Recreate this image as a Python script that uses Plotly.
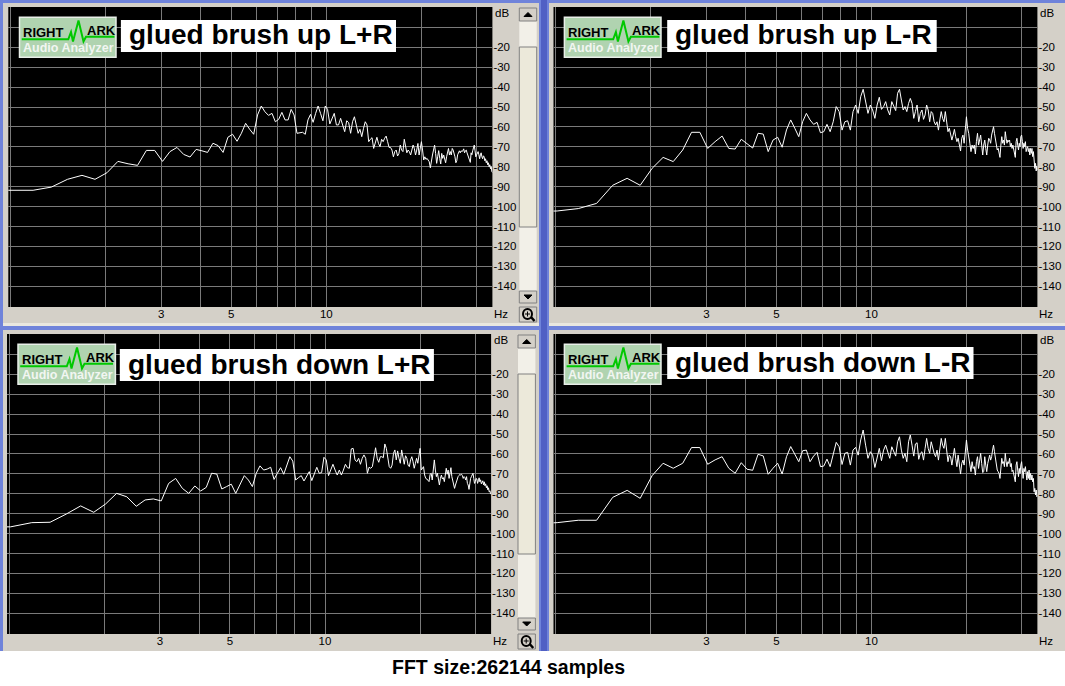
import plotly.graph_objects as go

W, H = 1065, 686

# FFT bins shown by the analyzer (bin number x bin width)
BIN_HZ = 0.1682
BINS = list(range(5, 201))

# dB per bin, rows of ten, first row starts at bin 5
UP_LR = [
 -91.8,-91.8,-91.8,-90.2,-86.3,-84.3,-86.3,-83.0,-77.3,-78.5,
 -79.3,-71.8,-71.8,-77.3,-72.4,-70.3,-73.8,-75.1,-71.3,-72.0,
 -72.8,-68.2,-69.4,-72.8,-65.2,-63.7,-67.2,-63.2,-58.2,-61.2,
 -63.7,-54.0,-49.5,-52.4,-54.2,-53.2,-57.4,-56.2,-52.7,-56.5,
 -56.5,-51.2,-54.0,-63.2,-62.9,-62.7,-63.7,-56.5,-53.7,-57.7,
 -53.2,-49.5,-53.2,-56.9,-49.5,-51.2,-58.5,-55.7,-53.2,-59.0,
 -59.0,-55.7,-59.0,-62.4,-56.9,-57.9,-63.2,-57.4,-54.9,-59.9,
 -63.2,-61.2,-64.9,-60.7,-57.4,-59.0,-67.4,-66.2,-65.4,-70.8,
 -67.4,-65.2,-68.3,-69.9,-66.2,-67.4,-65.7,-64.6,-67.4,-70.3,
 -70.3,-71.6,-75.0,-72.4,-71.6,-74.6,-73.3,-69.1,-71.6,-72.4,
 -66.2,-70.8,-73.0,-71.6,-72.4,-74.1,-71.6,-69.1,-70.8,-74.1,
 -71.6,-68.3,-74.1,-70.8,-67.4,-71.6,-76.6,-75.0,-76.3,-75.8,
 -76.6,-77.5,-80.5,-75.8,-74.1,-71.6,-69.1,-73.3,-78.3,-75.0,
 -71.9,-75.8,-78.6,-73.3,-75.8,-74.1,-76.6,-78.0,-75.0,-73.3,
 -70.8,-74.1,-72.4,-74.1,-70.8,-71.6,-73.0,-75.0,-78.0,-77.0,
 -74.0,-72.5,-72.0,-73.0,-72.0,-72.4,-72.0,-71.0,-73.0,-72.0,
 -71.6,-73.0,-74.0,-75.0,-76.5,-77.8,-73.0,-74.0,-72.0,-71.0,
 -69.1,-72.0,-75.0,-74.0,-73.0,-72.4,-74.0,-76.0,-74.0,-73.0,
 -75.0,-76.0,-74.5,-75.0,-77.0,-76.0,-78.0,-77.0,-79.0,-78.0,
 -80.0,-79.0,-81.0,-80.0,-82.5,-83.0,
]
UP_LMR = [
 -102.5,-102.2,-101.0,-98.4,-89.3,-85.8,-89.3,-80.8,-75.3,-77.4,
 -71.6,-62.7,-62.7,-70.8,-67.4,-64.6,-70.8,-71.1,-66.2,-68.6,
 -70.6,-63.2,-63.6,-72.4,-66.6,-65.2,-70.2,-61.5,-56.5,-60.7,
 -64.9,-57.4,-53.2,-56.5,-58.7,-57.7,-62.9,-62.4,-58.7,-62.4,
 -57.4,-49.8,-52.3,-61.6,-57.4,-56.9,-61.6,-52.3,-49.0,-53.2,
 -44.8,-41.1,-47.3,-53.2,-49.0,-51.5,-55.7,-49.0,-45.1,-51.2,
 -49.8,-47.3,-51.5,-54.0,-47.3,-49.5,-51.8,-43.1,-41.1,-46.5,
 -51.5,-49.8,-52.3,-48.2,-45.7,-48.2,-55.7,-52.3,-49.0,-57.4,
 -53.2,-51.5,-56.2,-54.0,-49.0,-51.5,-57.4,-52.3,-53.2,-57.4,
 -59.0,-57.4,-61.6,-56.5,-52.3,-55.7,-57.4,-52.3,-57.4,-62.4,
 -60.7,-64.1,-66.6,-64.1,-61.2,-64.9,-67.4,-65.7,-69.1,-72.1,
 -65.7,-64.1,-68.2,-61.6,-54.9,-60.7,-63.2,-68.2,-72.4,-69.1,
 -70.8,-69.1,-73.6,-67.4,-63.2,-69.1,-66.6,-64.1,-69.1,-74.1,
 -69.1,-66.6,-70.8,-74.1,-69.1,-65.7,-66.6,-68.2,-64.1,-61.6,
 -59.9,-63.2,-65.7,-69.1,-71.6,-70.8,-73.3,-75.3,-69.1,-64.9,
 -68.2,-66.6,-69.1,-62.4,-65.7,-68.2,-66.6,-67.4,-66.6,-69.9,
 -68.2,-70.8,-69.1,-71.6,-74.1,-75.3,-67.4,-65.7,-69.1,-71.6,
 -68.2,-69.9,-64.9,-64.1,-67.4,-70.8,-68.2,-69.9,-67.4,-72.4,
 -70.8,-69.9,-72.4,-70.8,-74.1,-70.8,-73.3,-70.8,-74.9,-72.4,
 -76.6,-80.8,-78.3,-82.1,-79.6,-81.6,
]
DOWN_LR = [
 -96.7,-96.6,-94.5,-94.3,-90.2,-86.1,-89.3,-85.1,-79.8,-81.5,
 -86.3,-83.1,-82.6,-83.6,-74.8,-72.3,-77.3,-79.8,-76.1,-78.6,
 -76.8,-69.7,-70.1,-77.6,-76.4,-75.2,-79.8,-75.3,-70.9,-73.1,
 -76.4,-69.7,-66.0,-68.1,-67.6,-66.7,-72.8,-69.7,-66.9,-70.2,
 -65.6,-61.4,-63.6,-73.1,-71.9,-70.9,-73.6,-70.9,-68.9,-73.4,
 -69.7,-66.7,-69.7,-69.4,-61.7,-63.0,-70.9,-68.1,-65.2,-68.1,
 -70.6,-68.1,-70.6,-68.1,-65.2,-66.9,-67.2,-57.5,-57.2,-63.0,
 -63.9,-62.2,-65.2,-62.2,-60.5,-62.2,-69.7,-66.7,-67.2,-66.4,
 -61.4,-56.9,-62.2,-64.2,-61.4,-61.4,-61.9,-55.0,-57.2,-61.4,
 -66.4,-67.2,-65.6,-59.7,-58.0,-63.0,-58.5,-62.2,-64.7,-58.0,
 -62.2,-65.2,-60.9,-62.2,-65.6,-66.4,-63.0,-61.4,-63.9,-67.2,
 -64.7,-62.2,-64.7,-60.5,-57.2,-68.1,-67.2,-66.4,-70.6,-72.3,
 -72.6,-73.1,-73.9,-70.2,-69.7,-73.1,-67.2,-63.0,-68.1,-71.4,
 -69.7,-73.1,-75.6,-72.3,-70.6,-72.6,-71.9,-73.9,-69.7,-67.2,
 -70.2,-68.1,-72.3,-69.7,-66.9,-71.4,-73.1,-74.8,-77.3,-75.6,
 -73.9,-72.3,-71.4,-70.9,-70.2,-70.6,-70.2,-70.9,-72.3,-71.4,
 -71.9,-73.1,-71.4,-74.8,-75.6,-77.8,-73.9,-72.3,-71.4,-70.2,
 -69.7,-72.3,-74.8,-73.9,-72.3,-72.6,-74.8,-73.5,-72.0,-74.0,
 -73.0,-75.0,-74.5,-73.5,-75.5,-74.0,-76.0,-75.0,-77.0,-76.0,
 -78.0,-77.0,-79.0,-78.5,-80.0,-80.0,
]
DOWN_LMR = [
 -95.2,-94.5,-93.3,-93.3,-81.8,-78.3,-82.3,-70.9,-64.7,-67.2,
 -64.7,-56.8,-56.8,-65.2,-63.0,-61.4,-67.2,-69.7,-64.4,-67.7,
 -68.2,-60.2,-61.0,-70.2,-67.2,-64.7,-70.1,-61.4,-56.3,-60.5,
 -63.9,-58.4,-58.1,-63.9,-61.1,-59.2,-66.4,-66.1,-62.6,-66.4,
 -60.6,-54.2,-56.4,-65.3,-59.7,-59.2,-65.6,-58.1,-56.7,-60.6,
 -53.0,-48.0,-55.6,-62.2,-58.9,-60.6,-66.8,-61.4,-57.2,-63.4,
 -58.1,-55.6,-59.7,-62.2,-56.4,-58.9,-61.1,-53.9,-51.4,-58.1,
 -62.2,-59.7,-63.9,-53.9,-50.5,-55.6,-61.1,-55.0,-54.4,-62.7,
 -59.7,-58.9,-63.1,-57.2,-52.2,-57.2,-59.7,-53.9,-57.2,-59.7,
 -61.4,-58.1,-63.1,-56.4,-52.2,-55.6,-57.2,-52.2,-58.9,-63.9,
 -60.6,-61.4,-65.6,-61.4,-57.2,-62.2,-66.4,-60.6,-65.6,-70.1,
 -64.8,-63.1,-65.6,-58.1,-53.0,-58.1,-61.4,-65.6,-68.9,-63.9,
 -67.3,-66.4,-70.6,-63.9,-61.4,-67.3,-63.9,-59.7,-64.8,-69.4,
 -68.9,-61.4,-65.6,-68.9,-64.8,-61.4,-60.6,-63.1,-61.4,-58.1,
 -55.6,-58.9,-62.2,-65.6,-68.1,-68.9,-69.8,-72.3,-66.4,-62.2,
 -64.8,-63.9,-66.4,-59.7,-63.9,-66.4,-63.9,-64.8,-62.2,-66.4,
 -64.8,-68.9,-68.1,-70.6,-71.4,-74.0,-65.6,-63.9,-68.1,-71.4,
 -67.3,-69.8,-65.6,-63.9,-68.1,-72.3,-67.3,-68.9,-66.4,-72.3,
 -73.1,-68.9,-72.3,-68.1,-73.1,-69.8,-73.1,-70.6,-74.0,-72.3,
 -79.0,-77.3,-80.6,-78.1,-81.5,-80.6,
]

DB_TICKS = [0, -10, -20, -30, -40, -50, -60, -70, -80, -90, -100, -110, -120, -130, -140]
DB_LABELS = ["", "", "-20", "-30", "-40", "-50", "-60", "-70", "-80", "-90", "-100", "-110", "-120", "-130", "-140"]
HZ_TICKS = [1, 2, 3, 4, 5, 6, 7, 8, 9, 10, 20, 30]
HZ_LABELS = ["", "", "3", "", "5", "", "", "", "", "10", "", ""]
TITLES = ["glued brush up L+R", "glued brush up L-R", "glued brush down L+R", "glued brush down L-R"]
SERIES = [UP_LR, UP_LMR, DOWN_LR, DOWN_LMR]
FOOTER = "FFT size:262144 samples"

GRAY, BLUE, DBLUE = "#D4D0C8", "#6F83DA", "#5060C4"
SANS = "Liberation Sans"
TICK_SIZE = 11.5

# panel geometry in pixels
PANELS = [
    dict(l=8.3, r=492.4, t=7, b=307, title=(120.9, 396, 20, 52, 128), logo=(19.5, 116, 17.3, 57.3), sb=519.3, dy=0),
    dict(l=553.5, r=1037.4, t=7, b=307, title=(667.2, 936.7, 20, 52, 674), logo=(564.4, 661, 17.3, 57.3), sb=None, dy=0),
    dict(l=7, r=491.1, t=334, b=634, title=(119.8, 433.9, 349, 381, 127), logo=(18, 115.4, 344.3, 384.3), sb=518, dy=327),
    dict(l=553.5, r=1037.4, t=334, b=634, title=(667.2, 973.5, 347, 379, 674), logo=(564.4, 661, 344.3, 384.3), sb=None, dy=327),
]

px = lambda x: x / W
py = lambda y: 1 - y / H
shapes, notes = [], []


def rect(x0, x1, y0, y1, fill, line=None, lw=1, layer="below"):
    shapes.append(dict(type="rect", xref="paper", yref="paper", x0=px(x0), x1=px(x1), y0=py(y1), y1=py(y0),
                       fillcolor=fill, line=dict(color=line or fill, width=lw if line else 0), layer=layer))


def poly(points, color, width=1, fill=None, close=False):
    d = "M" + " L".join(f"{px(a):.5f},{py(b):.5f}" for a, b in points) + (" Z" if close else "")
    shapes.append(dict(type="path", xref="paper", yref="paper", path=d, fillcolor=fill or "rgba(0,0,0,0)",
                       line=dict(color=color, width=width), layer="above"))


def text(x, y, s, size, color="#000", family=SANS, bold=False, anchor="left"):
    notes.append(dict(xref="paper", yref="paper", x=px(x), y=py(y), text=f"<b>{s}</b>" if bold else s,
                      showarrow=False, xanchor=anchor, yanchor="middle", borderpad=0,
                      font=dict(size=size, color=color, family=family)))


# window chrome
rect(0, W, 0, 330, BLUE)
rect(0, 3, 330, 651, BLUE)
rect(539, 549, 330, 651, BLUE)
rect(541, 547, 0, 651, DBLUE)
rect(3, 539, 3, 326, GRAY)
rect(549, W, 3, 326, GRAY)
rect(3, 539, 330, 651, GRAY)
rect(549, W, 330, 651, GRAY)
rect(3, 539, 323, 326, "#E9E7DF")
rect(549, W, 323, 326, "#E9E7DF")

fig = go.Figure()
for i, (p, vals) in enumerate(zip(PANELS, SERIES), start=1):
    rect(p["l"], p["r"], p["t"], p["b"], "#000000")
    fig.add_trace(go.Scatter(x=[k * BIN_HZ for k in BINS], y=vals, mode="lines", xaxis=f"x{i}", yaxis=f"y{i}",
                             line=dict(color="#FFFFFF", width=1), showlegend=False, hoverinfo="skip"))
    fig.layout[f"xaxis{i}"] = dict(type="log", range=[-0.0076, 1.5263], domain=[px(p["l"]), px(p["r"])],
                                   anchor=f"y{i}", tickvals=HZ_TICKS, ticktext=HZ_LABELS, tickangle=0,
                                   showgrid=True, gridcolor="#7A7A7A", gridwidth=1, zeroline=False,
                                   showline=False, ticks="", ticklabelstandoff=-2,
                                   tickfont=dict(family=SANS, size=TICK_SIZE, color="#000"))
    fig.layout[f"yaxis{i}"] = dict(range=[-150.4, 0.2], domain=[py(p["b"]), py(p["t"])], anchor=f"x{i}", side="right",
                                   tickvals=DB_TICKS, ticktext=DB_LABELS, showgrid=True, gridcolor="#7A7A7A",
                                   gridwidth=1, zeroline=False, showline=False, ticks="",
                                   tickfont=dict(family=SANS, size=TICK_SIZE, color="#000"))
    text(p["r"] + 1.5, p["t"] + 6, "dB", TICK_SIZE)
    text(p["r"] + 0.5, p["b"] + 7, "Hz", TICK_SIZE)

    x0, x1, y0, y1, tx = p["title"]
    rect(x0, x1, y0, y1, "#FFFFFF", layer="above")
    text(tx, (y0 + y1) / 2 - 1, TITLES[i - 1], 28, bold=True)

    a, b, c, d = p["logo"]
    rect(a, b, c, d, "#B0D3B0", "#E8EEE8", 1.5, layer="above")
    o = a - 19.5
    v = c - 17.3
    poly([(21.7 + o, 39.3 + v), (68.3 + o, 39.3 + v), (71 + o, 32 + v), (73 + o, 41.5 + v), (78.5 + o, 20.5 + v),
          (83.5 + o, 41.5 + v), (86 + o, 36.7 + v), (114.5 + o, 36.7 + v)], "#00C800", 2)
    text(a + 2.5, c + 15.5, "RIGHT", 13, bold=True)
    text(a + 66.5, c + 13, "ARK", 13, bold=True)
    text(a + 2.5, c + 31, "Audio Analyzer", 12.5, color="#F2F6F2", bold=True)

    if p["sb"]:
        s, dy = p["sb"], p["dy"]
        e = s + 17.4
        m = (s + e) / 2
        rect(s, e, 8 + dy, 303 + dy, "#F2F0E8")
        rect(s, e, 47 + dy, 227 + dy, "#ECE9DA", "#808080", 1)
        rect(s, e, 8 + dy, 21 + dy, GRAY, "#808080", 1)
        rect(s, e, 291 + dy, 303 + dy, GRAY, "#808080", 1)
        rect(s, e, 307 + dy, 322 + dy, GRAY, "#808080", 1)
        poly([(m - 4, 16.5 + dy), (m + 4, 16.5 + dy), (m, 12.5 + dy)], "#000", 1, "#000", True)
        poly([(m - 4, 295 + dy), (m + 4, 295 + dy), (m, 299 + dy)], "#000", 1, "#000", True)
        shapes.append(dict(type="circle", xref="paper", yref="paper", x0=px(m - 5), x1=px(m + 4), y0=py(319 + dy),
                           y1=py(309 + dy), line=dict(color="#000", width=2), layer="above"))
        poly([(m + 3, 317 + dy), (m + 6.5, 321 + dy)], "#000", 2.5)
        poly([(m - 3, 314 + dy), (m + 2, 314 + dy)], "#000", 1)
        poly([(m - 0.5, 311.5 + dy), (m - 0.5, 316.5 + dy)], "#000", 1)

text(508, 667, FOOTER, 19.5, bold=True, anchor="center")

fig.update_layout(width=W, height=H, margin=dict(l=0, r=0, t=0, b=0), paper_bgcolor="#FFFFFF",
                  plot_bgcolor="#000000", shapes=shapes, annotations=notes, showlegend=False)
fig.write_html("out.html", config=dict(displayModeBar=False),
               post_script="document.body.style.margin='0';document.documentElement.style.overflow='hidden';")
